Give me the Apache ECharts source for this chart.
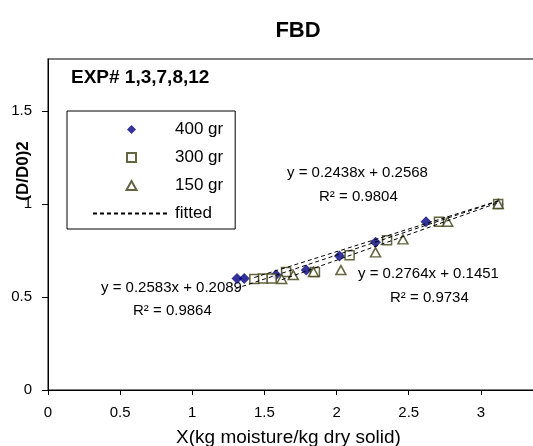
<!DOCTYPE html>
<html>
<head>
<meta charset="utf-8">
<script src="https://cdn.jsdelivr.net/npm/echarts@6/dist/echarts.min.js"></script>
<style>
  html, body { margin: 0; padding: 0; background: #fff; }
  #chart { width: 533px; height: 446px; }
</style>
</head>
<body>
<div id="chart"></div>
<script>
// measured points, X (kg moisture/kg dry solid) vs (D/D0)^2
const x400 = [1.31, 1.36, 1.58, 1.79, 2.02, 2.27, 2.62, 3.12];
const y400 = [0.60, 0.60, 0.62, 0.645, 0.72, 0.795, 0.905, 1.0];
const x300 = [1.43, 1.49, 1.55, 1.65, 1.85, 2.09, 2.35, 2.71, 3.12];
const y300 = [0.597, 0.60, 0.60, 0.635, 0.635, 0.725, 0.805, 0.905, 1.0];
const x150 = [1.62, 1.70, 1.84, 2.03, 2.27, 2.46, 2.77, 3.12];
const y150 = [0.597, 0.618, 0.635, 0.645, 0.74, 0.81, 0.905, 1.0];

// trendline end points (start x, end x / start y, end y)
const fitX400 = [1.30, 3.12];
const fitY400 = [0.545, 1.015];
const fitX300 = [1.43, 3.12];
const fitY300 = [0.605, 1.017];
const fitX150 = [1.62, 3.12];
const fitY150 = [0.593, 1.007];

const seriesNames = ['400 gr', '300 gr', '150 gr', 'fitted'];
const eqLabels = ['y = 0.2438x + 0.2568', 'y = 0.2764x + 0.1451', 'y = 0.2583x + 0.2089'];
const r2Labels = ['R\u00b2 = 0.9804', 'R\u00b2 = 0.9734', 'R\u00b2 = 0.9864'];
const xTicks = [0, 0.5, 1, 1.5, 2, 2.5, 3];
const yTicks = [0, 0.5, 1, 1.5];

const FONT = 'Liberation Sans, Arial, sans-serif';

function pairs(xs, ys) {
  return xs.map((x, i) => [x, ys[i]]);
}

const chart = echarts.init(document.getElementById('chart'));

// label positions for the trendline equations
const eqPos = [[287, 173], [358, 274], [101, 288]];
const r2Pos = [[319, 197], [390, 298], [133, 311]];

const graphics = [
  { type: 'text', x: 298, y: 31, style: { text: 'FBD', font: 'bold 22px ' + FONT, fill: '#000', align: 'center', verticalAlign: 'middle' } },
  { type: 'text', x: 71, y: 78, style: { text: 'EXP# 1,3,7,8,12', font: 'bold 19px ' + FONT, fill: '#000', align: 'left', verticalAlign: 'middle' } },
  { type: 'text', x: 23, y: 171, rotation: Math.PI / 2, style: { text: '(D/D0)2', font: 'bold 17px ' + FONT, fill: '#000', align: 'center', verticalAlign: 'middle' } }
];
eqLabels.forEach((t, i) => {
  graphics.push({ type: 'text', x: eqPos[i][0], y: eqPos[i][1], style: { text: t, font: '15px ' + FONT, fill: '#000', align: 'left', verticalAlign: 'middle' } });
  graphics.push({ type: 'text', x: r2Pos[i][0], y: r2Pos[i][1], style: { text: r2Labels[i], font: '15px ' + FONT, fill: '#000', align: 'left', verticalAlign: 'middle' } });
});

const dashStyle = { color: '#000', width: 1, type: [4, 3] };
const markerLine = '#3d3d10';

const option = {
  backgroundColor: '#fff',
  animation: false,
  grid: {
    left: 48,
    right: -20,
    top: 59,
    bottom: 56,
    outerBoundsMode: 'none',
    show: true,
    borderColor: '#555',
    borderWidth: 1.5
  },
  legend: {
    // path icons keep their aspect, built-in ones would stretch to itemWidth
    data: [
      { name: seriesNames[0], icon: 'path://M5,0L10,5L5,10L0,5Z' },
      { name: seriesNames[1], icon: 'path://M0,0L10,0L10,10L0,10Z' },
      { name: seriesNames[2], icon: 'path://M5,0L10,9L0,9Z' },
      { name: seriesNames[3], itemStyle: { color: 'rgba(0,0,0,0)', borderWidth: 0 } }
    ],
    orient: 'vertical',
    left: 67,
    top: 111,
    itemWidth: 77,
    itemHeight: 9,
    itemGap: 11,
    padding: [10, 12, 7, 25],
    borderColor: '#000',
    borderWidth: 1,
    textStyle: { fontFamily: FONT, fontSize: 17, color: '#000' }
  },
  xAxis: {
    type: 'value',
    min: 0,
    max: 3.5,
    interval: 0.5,
    name: 'X(kg moisture/kg dry solid)',
    nameLocation: 'middle',
    nameGap: 38,
    nameTextStyle: { fontFamily: FONT, fontSize: 19, color: '#000', padding: [0, 24, 0, 0] },
    axisLine: { lineStyle: { color: '#000', width: 1 } },
    axisTick: { inside: false, length: 5, lineStyle: { color: '#000' }, customValues: xTicks },
    axisLabel: { fontFamily: FONT, fontSize: 15, color: '#000', margin: 15, customValues: xTicks },
    splitLine: { show: false }
  },
  yAxis: {
    type: 'value',
    min: 0,
    max: 1.78,
    interval: 0.5,
    axisLine: { show: true, lineStyle: { color: '#000', width: 1 } },
    axisTick: { show: true, inside: false, length: 6, lineStyle: { color: '#000' }, customValues: yTicks },
    axisLabel: { fontFamily: FONT, fontSize: 15, color: '#000', margin: 16, customValues: yTicks },
    splitLine: { show: false }
  },
  graphic: graphics,
  series: [
    {
      name: seriesNames[0],
      type: 'scatter',
      symbol: 'diamond',
      symbolSize: 11,
      itemStyle: { color: '#000080' },
      data: pairs(x400, y400)
    },
    {
      name: seriesNames[1],
      type: 'scatter',
      symbol: 'rect',
      symbolSize: 9,
      itemStyle: { color: '#ffffff', borderColor: markerLine, borderWidth: 1.5 },
      data: pairs(x300, y300)
    },
    {
      name: seriesNames[2],
      type: 'scatter',
      symbol: 'triangle',
      symbolSize: [10, 9],
      itemStyle: { color: '#ffffff', borderColor: markerLine, borderWidth: 1.5 },
      data: pairs(x150, y150)
    },
    { name: 'fitted', type: 'line', symbol: 'none', lineStyle: dashStyle, itemStyle: { color: '#000' }, data: pairs(fitX400, fitY400) },
    { name: 'fitted', type: 'line', symbol: 'none', lineStyle: dashStyle, itemStyle: { color: '#000' }, data: pairs(fitX300, fitY300) },
    { name: 'fitted', type: 'line', symbol: 'none', lineStyle: dashStyle, itemStyle: { color: '#000' }, data: pairs(fitX150, fitY150) }
  ]
};

chart.setOption(option);
</script>
</body>
</html>
